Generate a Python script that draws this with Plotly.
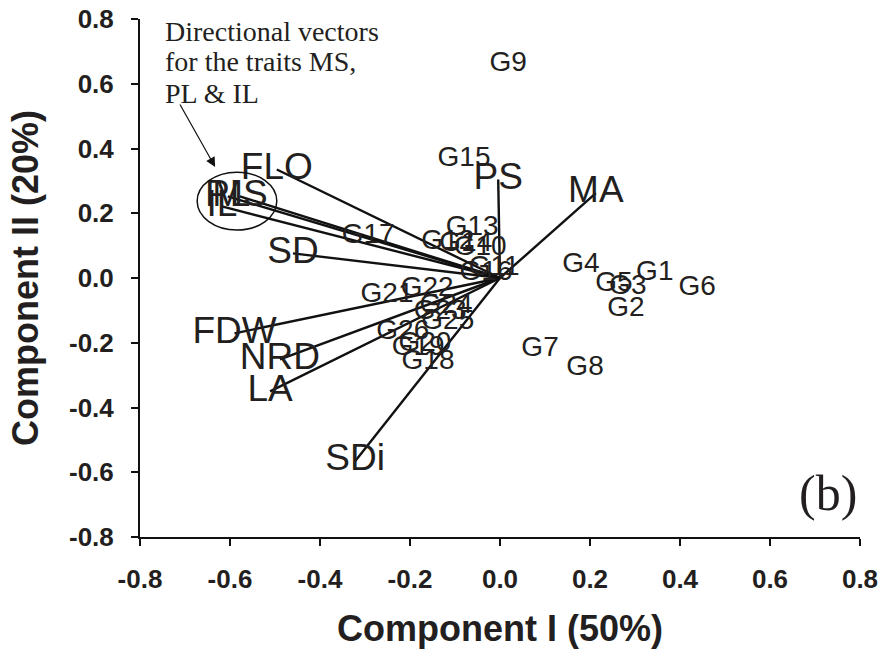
import plotly.graph_objects as go

# Trait loading vectors (Component I, Component II)
traits = ["FLO", "MS", "PL", "IL", "SD", "FDW", "NRD", "LA", "SDi", "MA", "PS"]
trait_pc1 = [-0.496, -0.578, -0.605, -0.618, -0.460, -0.590, -0.489, -0.511, -0.322, 0.213, -0.004]
trait_pc2 = [0.335, 0.252, 0.252, 0.221, 0.076, -0.171, -0.251, -0.350, -0.566, 0.262, 0.304]

# Genotype scores
genotypes = ["G1", "G2", "G3", "G4", "G5", "G6", "G7", "G8", "G9", "G10", "G11", "G12", "G13",
             "G14", "G15", "G16", "G17", "G18", "G19", "G20", "G21", "G22", "G23", "G24", "G25", "G26"]
geno_pc1 = [0.344, 0.280, 0.284, 0.180, 0.253, 0.438, 0.089, 0.189, 0.018, -0.044, -0.013, -0.116, -0.062,
            -0.076, -0.080, -0.031, -0.293, -0.160, -0.182, -0.167, -0.251, -0.162, -0.133, -0.120, -0.116, -0.216]
geno_pc2 = [0.014, -0.095, -0.027, 0.041, -0.017, -0.030, -0.218, -0.277, 0.662, 0.094, 0.032, 0.112, 0.153,
            0.106, 0.369, 0.014, 0.131, -0.258, -0.215, -0.203, -0.051, -0.033, -0.104, -0.088, -0.135, -0.166]

tick_vals = [-0.8, -0.6, -0.4, -0.2, 0.0, 0.2, 0.4, 0.6, 0.8]
tick_text = ["-0.8", "-0.6", "-0.4", "-0.2", "0.0", "0.2", "0.4", "0.6", "0.8"]

note_lines = ["Directional vectors", "for the traits MS,", "PL &amp; IL"]

SANS = "Liberation Sans, Arial, sans-serif"
SERIF = "Liberation Serif, Times New Roman, serif"
INK = "#231f20"

# Vectors from the origin to each trait loading
vx, vy = [], []
for px, py in zip(trait_pc1, trait_pc2):
    vx += [0, px, None]
    vy += [0, py, None]

fig = go.Figure()
fig.add_trace(go.Scatter(x=vx, y=vy, mode="lines",
                         line=dict(color="#111111", width=2.4),
                         hoverinfo="skip", showlegend=False))
fig.add_trace(go.Scatter(x=trait_pc1, y=trait_pc2, mode="text", text=traits,
                         textposition="middle center",
                         textfont=dict(family=SANS, size=37, color=INK),
                         showlegend=False))
fig.add_trace(go.Scatter(x=geno_pc1, y=geno_pc2, mode="text", text=genotypes,
                         textposition="middle center",
                         textfont=dict(family=SANS, size=28, color=INK),
                         showlegend=False))

axis_common = dict(
    range=[-0.8, 0.8], tickmode="array", tickvals=tick_vals, ticktext=tick_text,
    showgrid=False, zeroline=False, showline=True, linecolor="#111111", linewidth=2,
    ticks="outside", ticklen=7, tickwidth=1.5, tickcolor="#111111", automargin=False,
    tickfont=dict(family=SANS, size=26, color=INK, weight="bold"),
)

fig.update_xaxes(**axis_common, ticklabelstandoff=11,
                 title=dict(text="<b>Component I (50%)</b>", standoff=23,
                            font=dict(family=SANS, size=36, color=INK)))
fig.update_yaxes(**axis_common, ticklabelstandoff=12,
                 title=dict(text="<b>Component II (20%)</b>", standoff=19,
                            font=dict(family=SANS, size=36, color=INK)))

# Ellipse grouping the MS, PL and IL vectors
fig.add_shape(type="circle", xref="x", yref="y",
              x0=-0.673, x1=-0.496, y0=0.148, y1=0.327,
              line=dict(color="#111111", width=1.5))

# Note with an arrow pointing to the grouped vectors
fig.add_annotation(x=-0.633, y=0.343, xref="x", yref="y", text="",
                   showarrow=True, arrowhead=2, arrowsize=1.6, arrowwidth=1.2,
                   arrowcolor="#111111", ax=-36, ay=-64)
for line_text, ypos in zip(note_lines, [0.975, 0.917, 0.857]):
    fig.add_annotation(x=0.032, y=ypos, xref="paper", yref="paper",
                       xanchor="left", yanchor="middle", align="left", showarrow=False,
                       text=line_text, font=dict(family=SERIF, size=28, color=INK))
fig.add_annotation(x=0.955, y=0.085, xref="paper", yref="paper",
                   xanchor="center", yanchor="middle", showarrow=False,
                   text="(b)", font=dict(family=SERIF, size=50, color=INK))

fig.update_layout(
    width=883, height=656,
    margin=dict(l=140, r=23, t=19, b=119),
    paper_bgcolor="white", plot_bgcolor="white",
)

fig.write_html("out.html")
